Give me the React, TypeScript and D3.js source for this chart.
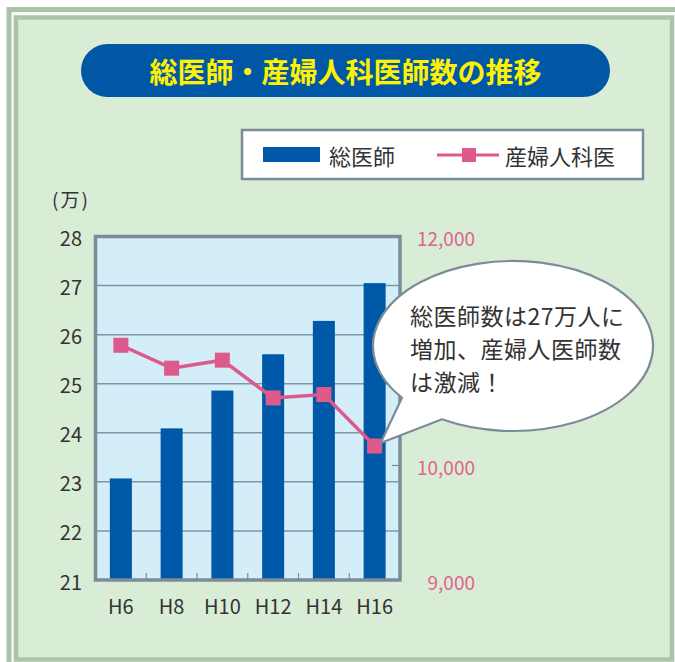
import * as d3 from "d3";
import React from "react";

// values (総医師 in 万人, 産婦人科医 in 人)
const years = ["H6", "H8", "H10", "H12", "H14", "H16"];
const totalDoctors = [23.07, 24.09, 24.86, 25.6, 26.28, 27.05];
const obgynDoctors = [11050, 10850, 10920, 10590, 10620, 10170];
const leftTicks = [21, 22, 23, 24, 25, 26, 27, 28];
const rightTicks = [9000, 10000, 11000, 12000];
// 11,000 sits under the speech bubble in the original, so no label for it
const rightLabels = [9000, 10000, 12000];
const bubbleLines = ["総医師数は27万人に", "増加、産婦人医師数", "は激減！"];

const FONT = '"Noto Sans CJK JP", "Noto Sans", sans-serif';
const BLUE = "#0058a8";
const PINK = "#de5a8a";
const FRAME = "#7b8c98";

const App = () => {
  const ref = React.useRef<SVGSVGElement>(null);

  React.useEffect(() => {
    const svg = d3.select(ref.current);
    svg.selectAll("*").remove();
    svg.attr("font-family", FONT);

    // panel background with double border
    svg
      .append("rect")
      .attr("x", 9)
      .attr("y", 9.5)
      .attr("width", 700)
      .attr("height", 700)
      .attr("fill", "#f7fbf6")
      .attr("stroke", "#a9c4a9")
      .attr("stroke-width", 5);
    svg
      .append("rect")
      .attr("x", 16)
      .attr("y", 17.5)
      .attr("width", 656)
      .attr("height", 642)
      .attr("fill", "#d9ecd5")
      .attr("stroke", "#a9c4a9")
      .attr("stroke-width", 4.5);

    // title pill
    svg
      .append("rect")
      .attr("x", 81)
      .attr("y", 44)
      .attr("width", 529)
      .attr("height", 53)
      .attr("rx", 26.5)
      .attr("fill", "#0057a6");
    svg
      .append("text")
      .attr("x", 345.5)
      .attr("y", 71)
      .attr("text-anchor", "middle")
      .attr("dominant-baseline", "central")
      .attr("font-size", 28)
      .attr("font-weight", "bold")
      .attr("fill", "#fff200")
      .text("総医師・産婦人科医師数の推移");

    // legend
    const legend = svg.append("g");
    legend
      .append("rect")
      .attr("x", 242)
      .attr("y", 130)
      .attr("width", 401)
      .attr("height", 49)
      .attr("fill", "#ffffff")
      .attr("stroke", FRAME)
      .attr("stroke-width", 2.5);
    legend
      .append("rect")
      .attr("x", 263)
      .attr("y", 147)
      .attr("width", 57)
      .attr("height", 15)
      .attr("fill", BLUE);
    legend
      .append("text")
      .attr("x", 329)
      .attr("y", 155)
      .attr("dominant-baseline", "central")
      .attr("font-size", 22)
      .attr("fill", "#333")
      .text("総医師");
    legend
      .append("line")
      .attr("x1", 437)
      .attr("x2", 499)
      .attr("y1", 155)
      .attr("y2", 155)
      .attr("stroke", PINK)
      .attr("stroke-width", 3);
    legend
      .append("rect")
      .attr("x", 462)
      .attr("y", 148)
      .attr("width", 14)
      .attr("height", 14)
      .attr("fill", PINK);
    legend
      .append("text")
      .attr("x", 505)
      .attr("y", 155)
      .attr("dominant-baseline", "central")
      .attr("font-size", 22)
      .attr("fill", "#333")
      .text("産婦人科医");

    // scales
    const left = 95.5,
      right = 400,
      top = 236.5,
      bottom = 580;

    const x = d3
      .scaleBand()
      .domain(years)
      .range([left, right])
      .paddingInner(0.566)
      .paddingOuter(0.283);
    const yL = d3.scaleLinear().domain([21, 28]).range([bottom, top]);
    const yR = d3.scaleLinear().domain([9000, 12000]).range([bottom, top]);

    // plot area
    svg
      .append("rect")
      .attr("x", left)
      .attr("y", top)
      .attr("width", right - left)
      .attr("height", bottom - top)
      .attr("fill", "#d3edf9");

    // grid lines
    svg
      .append("g")
      .selectAll("line")
      .data(leftTicks.slice(1, -1))
      .enter()
      .append("line")
      .attr("x1", left)
      .attr("x2", right)
      .attr("y1", (d) => yL(d))
      .attr("y2", (d) => yL(d))
      .attr("stroke", "#7d96a8")
      .attr("stroke-width", 1.5);

    // bars
    svg
      .append("g")
      .selectAll("rect")
      .data(years)
      .enter()
      .append("rect")
      .attr("x", (d) => x(d)!)
      .attr("y", (d, i) => yL(totalDoctors[i]))
      .attr("width", x.bandwidth())
      .attr("height", (d, i) => bottom - yL(totalDoctors[i]))
      .attr("fill", BLUE);

    // small ticks between categories
    const step = x.step();
    svg
      .append("g")
      .selectAll("line")
      .data(years.slice(1))
      .enter()
      .append("line")
      .attr("x1", (d) => x(d)! - (step - x.bandwidth()) / 2)
      .attr("x2", (d) => x(d)! - (step - x.bandwidth()) / 2)
      .attr("y1", bottom - 7)
      .attr("y2", bottom)
      .attr("stroke", FRAME)
      .attr("stroke-width", 1.2);

    // right axis ticks (inside)
    svg
      .append("g")
      .selectAll("line")
      .data(rightTicks.slice(1, -1))
      .enter()
      .append("line")
      .attr("x1", right - 8)
      .attr("x2", right)
      .attr("y1", (d) => yR(d))
      .attr("y2", (d) => yR(d))
      .attr("stroke", FRAME)
      .attr("stroke-width", 1.2);

    // frame
    svg
      .append("rect")
      .attr("x", left)
      .attr("y", top)
      .attr("width", right - left)
      .attr("height", bottom - top)
      .attr("fill", "none")
      .attr("stroke", FRAME)
      .attr("stroke-width", 3.5);

    // line series
    const cx = (d: string) => x(d)! + x.bandwidth() / 2;
    const line = d3
      .line<string>()
      .x((d) => cx(d))
      .y((d, i) => yR(obgynDoctors[i]));
    svg
      .append("path")
      .attr("d", line(years))
      .attr("fill", "none")
      .attr("stroke", PINK)
      .attr("stroke-width", 3.5);
    svg
      .append("g")
      .selectAll("rect")
      .data(years)
      .enter()
      .append("rect")
      .attr("x", (d) => cx(d) - 7.5)
      .attr("y", (d, i) => yR(obgynDoctors[i]) - 7.5)
      .attr("width", 15)
      .attr("height", 15)
      .attr("fill", PINK);

    // axis labels
    svg
      .append("g")
      .selectAll("text")
      .data(leftTicks)
      .enter()
      .append("text")
      .attr("x", 82)
      .attr("y", (d) => yL(d) + 1)
      .attr("text-anchor", "end")
      .attr("dominant-baseline", "central")
      .attr("font-size", 20)
      .attr("fill", "#333")
      .text((d) => d);

    svg
      .append("g")
      .selectAll("text")
      .data(rightLabels)
      .enter()
      .append("text")
      .attr("x", 475)
      .attr("y", (d) => yR(d) + 1)
      .attr("text-anchor", "end")
      .attr("dominant-baseline", "central")
      .attr("font-size", 19)
      .attr("fill", "#e0648e")
      .text((d) => d3.format(",")(d));

    svg
      .append("g")
      .selectAll("text")
      .data(years)
      .enter()
      .append("text")
      .attr("x", (d) => cx(d))
      .attr("y", 605)
      .attr("text-anchor", "middle")
      .attr("dominant-baseline", "central")
      .attr("font-size", 20)
      .attr("fill", "#333")
      .text((d) => d);

    svg
      .append("text")
      .attr("x", 52)
      .attr("y", 198)
      .attr("dominant-baseline", "central")
      .attr("font-size", 19)
      .attr("letter-spacing", 2)
      .attr("fill", "#333")
      .text("(万)");

    // speech bubble pointing at the last point
    const ex = 513,
      ey = 346,
      rx = 140,
      ry = 85;
    const onEllipse = (px: number) => {
      const c = (px - ex) / rx;
      return [px, ey + ry * Math.sqrt(1 - c * c)];
    };
    const a = onEllipse(402);
    const b = onEllipse(442);
    const last = years[years.length - 1];
    const tip = [cx(last) + 6, yR(obgynDoctors[obgynDoctors.length - 1]) - 3];
    svg
      .append("path")
      .attr(
        "d",
        `M${a[0]},${a[1]} A${rx},${ry} 0 1 1 ${b[0]},${b[1]} L${tip[0]},${tip[1]} Z`
      )
      .attr("fill", "#ffffff")
      .attr("stroke", FRAME)
      .attr("stroke-width", 2.2)
      .attr("stroke-linejoin", "round");

    svg
      .append("g")
      .selectAll("text")
      .data(bubbleLines)
      .enter()
      .append("text")
      .attr("x", 410)
      .attr("y", (d, i) => 315 + i * 33)
      .attr("dominant-baseline", "central")
      .attr("font-size", 23)
      .attr("letter-spacing", 0.5)
      .attr("fill", "#333")
      .text((d) => d);
  }, []);

  return (
    <svg
      ref={ref}
      width={675}
      height={662}
      style={{ position: "absolute", left: 0, top: 0 }}
    />
  );
};

export default App;
